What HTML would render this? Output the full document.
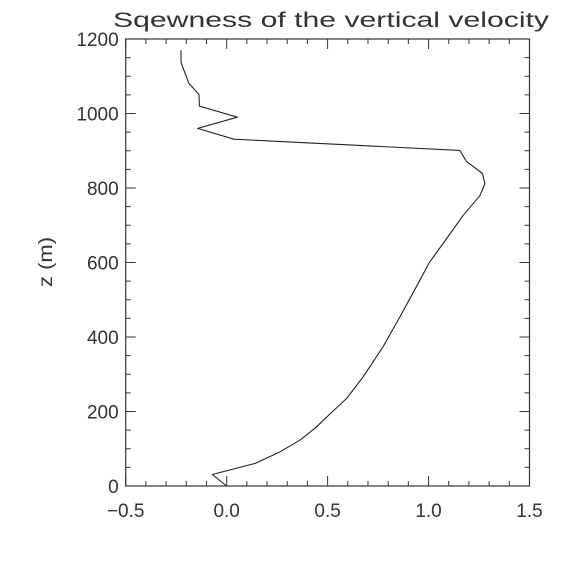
<!DOCTYPE html>
<html><head><meta charset="utf-8"><style>
html,body{margin:0;padding:0;background:#fff;}
svg text{font-family:"Liberation Sans",sans-serif;fill:#333;}
</style></head><body>
<svg id="chart" width="566" height="566" viewBox="0 0 566 566" xmlns="http://www.w3.org/2000/svg">
<rect width="566" height="566" fill="#fff"/>
<text x="331" y="27" text-anchor="middle" font-size="21" textLength="436" lengthAdjust="spacingAndGlyphs">Sqewness of the vertical velocity</text>
<text transform="translate(52,262) rotate(-90)" text-anchor="middle" font-size="19" textLength="50" lengthAdjust="spacingAndGlyphs">z (m)</text>
<g id="axes"></g>
<g id="marks"></g>
</svg>
<script>
const skewValues=[0,-0.071,0.143,0.265,0.363,0.437,0.511,0.594,0.676,0.775,0.858,0.940,1.006,1.072,1.172,1.254,1.279,1.267,1.188,1.155,0.036,-0.144,0.053,-0.135,-0.137,-0.187,-0.226,-0.226];
const heightValues=[0,31,61,92,123,155,193,235,293,374,454,535,602,651,727,779,811,839,871,901,931,960,990,1020,1051,1081,1137,1170];
const xTickLabels=["-0.5","0.0","0.5","1.0","1.5"];
const xTickValues=[-0.5,0,0.5,1.0,1.5];
const yTickValues=[0,200,400,600,800,1000,1200];
const yTickLabels=["0","200","400","600","800","1000","1200"];
const L=125.7,R=529.5,T=39,B=486;
const xScale=v=>L+(v+0.5)/2*(R-L);
const yScale=v=>B-v/1200*(B-T);
const NS="http://www.w3.org/2000/svg";
const axes=document.getElementById('axes');
function mk(tag,attrs,parent){const e=document.createElementNS(NS,tag);for(const k in attrs)e.setAttribute(k,attrs[k]);parent.appendChild(e);return e;}
const frame=mk('rect',{x:L,y:T,width:R-L,height:B-T,fill:'none',stroke:'#333','stroke-width':1.2},axes);


for(let i=0;i<=20;i++){const v=-0.5+i*0.1;const x=xScale(v);const len=(i%5===0)?10:5;
 const t1=mk('line',{x1:x,x2:x,y1:B,y2:B-len,stroke:'#333'},axes);
 
 
 const t2=mk('line',{x1:x,x2:x,y1:T,y2:T+len,stroke:'#333'},axes);
 
 }
for(let i=0;i<=24;i++){const v=i*50;const y=yScale(v);const len=(i%4===0)?10:5;
 const t1=mk('line',{x1:L,x2:L+len,y1:y,y2:y,stroke:'#333'},axes);
 
 
 const t2=mk('line',{x1:R,x2:R-len,y1:y,y2:y,stroke:'#333'},axes);
 
 }
xTickValues.forEach((v,i)=>{const t=mk('text',{x:xScale(v),y:B+31,'text-anchor':'middle','font-size':19},axes);t.textContent=xTickLabels[i].replace('-','\u2212');
 
 });
yTickValues.forEach((v,i)=>{const t=mk('text',{x:L-7,y:yScale(v)+7,'text-anchor':'end','font-size':19},axes);t.textContent=yTickLabels[i];
 
 });
const pts=skewValues.map((v,i)=>xScale(v).toFixed(1)+','+yScale(heightValues[i]).toFixed(1)).join(' ');
const line=mk('polyline',{points:pts,fill:'none',stroke:'#222','stroke-width':1.1,'stroke-linejoin':'round'},document.getElementById('marks'));


</script>
</body></html>
